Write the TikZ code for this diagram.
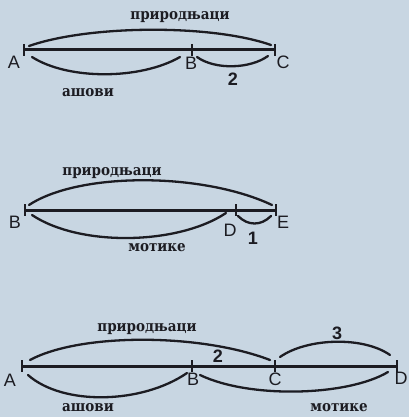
\documentclass[tikz,border=0pt]{standalone}
\usepackage{fontspec}
\setmainfont{Liberation Sans}
\newfontfamily\cyr{DejaVu Serif Condensed}
\definecolor{paper}{RGB}{200,214,226}
\definecolor{ink}{RGB}{28,28,34}
\begin{document}
\begin{tikzpicture}[x=1pt,y=-1pt,
  seg/.style={line width=3pt,draw=ink},
  tickmark/.style={line width=1.8pt,draw=ink},
  arcline/.style={line width=2.3pt,draw=ink,line cap=round},
  pt/.style={font=\fontsize{18}{18}\selectfont,text=ink,inner sep=0pt},
  word/.style={font=\cyr\bfseries\fontsize{15}{15}\selectfont,text=ink,inner sep=0pt},
  num/.style={font=\bfseries\fontsize{18}{18}\selectfont,text=ink,inner sep=0pt}]
\fill[paper] (0,0) rectangle (409,417);
\useasboundingbox (0,0) rectangle (409,417);

% ---------- first segment: A, B, C ----------
\coordinate (A1) at (24,50);
\coordinate (B1) at (192,50);
\coordinate (C1) at (275,50);
\draw[seg] (A1) -- (C1);
\foreach \p in {A1,B1,C1}
  \draw[tickmark] ([yshift=6pt]\p) -- ([yshift=-6pt]\p);
\coordinate (u1s) at (29,46);  \coordinate (u1e) at (271,45);
\coordinate (l1s) at (32,57);  \coordinate (l1e) at (180,57);
\coordinate (m1s) at (197,57); \coordinate (m1e) at (268,56);
\draw[arcline] (u1s) .. controls +(60,-21) and +(-60,-21) .. (u1e);
\draw[arcline] (l1s) .. controls +(36,23) and +(-40,23) .. (l1e);
\draw[arcline] (m1s) .. controls +(18,13) and +(-18,13) .. (m1e);
\node[word] (w1) at (180,17) {природњаци};
\node[word] (w2) at (88,93) {ашови};
\node[num] (n1) at (233,79) {2};
\node[pt] (la1) at (14,62) {A};
\node[pt] (lb1) at (191,63) {B};
\node[pt] (lc1) at (283,62) {C};

% ---------- second segment: B, D, E ----------
\coordinate (B2) at (25,210);
\coordinate (D2) at (236,210);
\coordinate (E2) at (276,210);
\draw[seg] (B2) -- (E2);
\foreach \p in {B2,D2,E2}
  \draw[tickmark] ([yshift=6pt]\p) -- ([yshift=-6pt]\p);
\coordinate (u2s) at (29,205);  \coordinate (u2e) at (272,205);
\coordinate (l2s) at (32,215);  \coordinate (l2e) at (226,213);
\coordinate (m2s) at (238,216); \coordinate (m2e) at (271,216);
\draw[arcline] (u2s) .. controls +(50,-33) and +(-70,-33) .. (u2e);
\draw[arcline] (l2s) .. controls +(48,32) and +(-48,32) .. (l2e);
\draw[arcline] (m2s) .. controls +(10,10) and +(-10,10) .. (m2e);
\node[word] (w3) at (112,173) {природњаци};
\node[word] (w4) at (157,248) {мотике};
\node[num] (n2) at (253,238) {1};
\node[pt] (lb2) at (15,222) {B};
\node[pt] (ld2) at (230,230) {D};
\node[pt] (le2) at (283,222) {E};

% ---------- third segment: A, B, C, D ----------
\coordinate (A3) at (22,366);
\coordinate (B3) at (192,366);
\coordinate (C3) at (275,366);
\coordinate (D3) at (397,366);
\draw[seg] (A3) -- (D3);
\foreach \p in {A3,B3,C3,D3}
  \draw[tickmark] ([yshift=6pt]\p) -- ([yshift=-6pt]\p);
\coordinate (u3s) at (30,360);  \coordinate (u3e) at (270,360);
\coordinate (v3s) at (280,357); \coordinate (v3e) at (390,355);
\coordinate (l3s) at (28,375);  \coordinate (l3e) at (187,373);
\coordinate (m3s) at (200,375); \coordinate (m3e) at (388,372);
\draw[arcline] (u3s) .. controls +(50,-27) and +(-70,-27) .. (u3e);
\draw[arcline] (v3s) .. controls +(27,-19) and +(-27,-19) .. (v3e);
\draw[arcline] (l3s) .. controls +(35,31) and +(-45,31) .. (l3e);
\draw[arcline] (m3s) .. controls +(50,24) and +(-40,24) .. (m3e);
\node[word] (w5) at (147,329) {природњаци};
\node[word] (w6) at (88,408) {ашови};
\node[word] (w7) at (339,408) {мотике};
\node[num] (n3) at (218,356) {2};
\node[num] (n4) at (337,333) {3};
\node[pt] (la3) at (10,380) {A};
\node[pt] (lb3) at (193,379) {B};
\node[pt] (lc3) at (275,379) {C};
\node[pt] (ld3) at (401,378) {D};
\end{tikzpicture}
\end{document}
